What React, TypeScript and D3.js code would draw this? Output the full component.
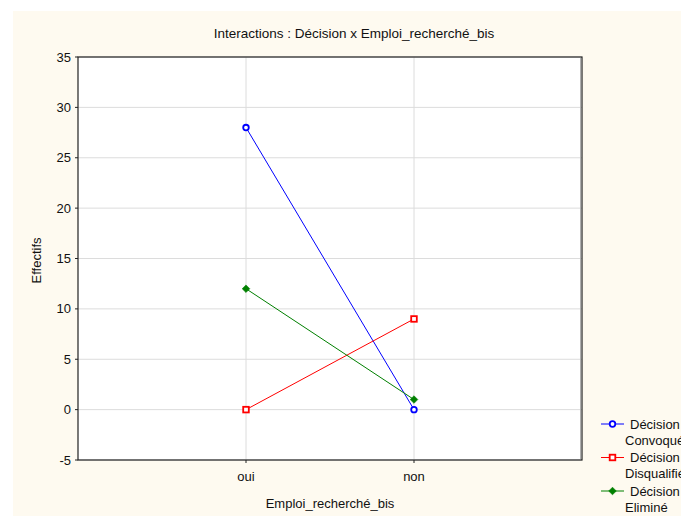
import React from "react";
import * as d3 from "d3";

const categories = ["oui", "non"];
const seriesNames = ["Décision\nConvoqué", "Décision\nDisqualifié", "Décision\nEliminé"];
const convoque = [28, 0];
const disqualifie = [0, 9];
const elimine = [12, 1];
const yTicks = [-5, 0, 5, 10, 15, 20, 25, 30, 35];

const W = 681, H = 516;
const L = 78, R = 582, T = 57, B = 460;
const font = "'Liberation Sans', Arial, sans-serif";

export default function App() {
  const x = d3.scaleLinear().domain([0, 3]).range([L, R]);
  const y = d3.scaleLinear().domain([-5, 35]).range([B, T]);
  const line = d3.line<number>().x((_, i) => x(i + 1)).y((d) => y(d));
  const series = [
    { name: seriesNames[0], values: convoque, color: "#0000ff", marker: "circle" },
    { name: seriesNames[1], values: disqualifie, color: "#ff0000", marker: "square" },
    { name: seriesNames[2], values: elimine, color: "#008000", marker: "diamond" },
  ];
  const marker = (m: string, cx: number, cy: number, color: string, key: string) => {
    if (m === "circle")
      return <circle key={key} cx={cx} cy={cy} r={2.8} fill="#fff" stroke={color} strokeWidth={1.8} />;
    if (m === "square")
      return <rect key={key} x={cx - 2.8} y={cy - 2.8} width={5.6} height={5.6} fill="#fff" stroke={color} strokeWidth={1.8} />;
    return <path key={key} d={`M${cx},${cy - 3.8}L${cx + 3.8},${cy}L${cx},${cy + 3.8}L${cx - 3.8},${cy}Z`} fill={color} stroke={color} strokeWidth={0.6} />;
  };
  return (
    <svg width={W} height={H} style={{ position: "absolute", left: 0, top: 0, fontFamily: font }}>
      <rect x={0} y={0} width={W} height={H} fill="#fff" />
      <rect x={13} y={11} width={W - 13} height={H - 11} fill="#fefaf0" />
      <rect x={L} y={T} width={R - L} height={B - T} fill="#fff" />
      {yTicks.map((t) => (
        <line key={"gy" + t} x1={L} x2={R} y1={y(t)} y2={y(t)} stroke="#dcdcdc" strokeWidth={1} />
      ))}
      {categories.map((c, i) => (
        <line key={"gx" + c} x1={x(i + 1)} x2={x(i + 1)} y1={T} y2={B} stroke="#dcdcdc" strokeWidth={1} />
      ))}
      <line x1={R - 1.5} x2={R - 1.5} y1={T + 1} y2={B - 1} stroke="#b0b0b0" strokeWidth={1} />
      <rect x={L} y={T} width={R - L} height={B - T} fill="none" stroke="#222" strokeWidth={1.2} />
      {yTicks.map((t) => (
        <g key={"ty" + t}>
          <line x1={L - 3} x2={L} y1={y(t)} y2={y(t)} stroke="#222" />
          <text x={L - 7} y={y(t)} dy="0.35em" textAnchor="end" fontSize={13} fill="#111">{t}</text>
        </g>
      ))}
      {categories.map((c, i) => (
        <g key={"tx" + c}>
          <line x1={x(i + 1)} x2={x(i + 1)} y1={B} y2={B + 3} stroke="#222" />
          <text x={x(i + 1)} y={B + 21} textAnchor="middle" fontSize={13} fill="#111">{c}</text>
        </g>
      ))}
      {series.map((s) => (
        <g key={s.name}>
          <path d={line(s.values) || ""} fill="none" stroke={s.color} strokeWidth={1} />
          {s.values.map((v, i) => marker(s.marker, x(i + 1), y(v), s.color, s.name + i))}
        </g>
      ))}
      <text x={354} y={38} textAnchor="middle" fontSize={13.5} fill="#111">Interactions : Décision x Emploi_recherché_bis</text>
      <text x={(L + R) / 2} y={508} textAnchor="middle" fontSize={13} fill="#111">Emploi_recherché_bis</text>
      <text transform={`translate(41,${(T + B) / 2 + 2}) rotate(-90)`} textAnchor="middle" fontSize={13} fill="#111">Effectifs</text>
      {series.map((s, i) => {
        const ly = 424 + i * 33.5;
        const [l1, l2] = s.name.split("\n");
        return (
          <g key={"lg" + i}>
            <line x1={601} x2={624} y1={ly} y2={ly} stroke={s.color} strokeWidth={1} />
            {marker(s.marker, 612.5, ly, s.color, "lm" + i)}
            <text x={630} y={ly} dy="0.35em" fontSize={13} fill="#111">{l1}</text>
            <text x={625} y={ly + 16} dy="0.35em" fontSize={13} fill="#111">{l2}</text>
          </g>
        );
      })}
    </svg>
  );
}
